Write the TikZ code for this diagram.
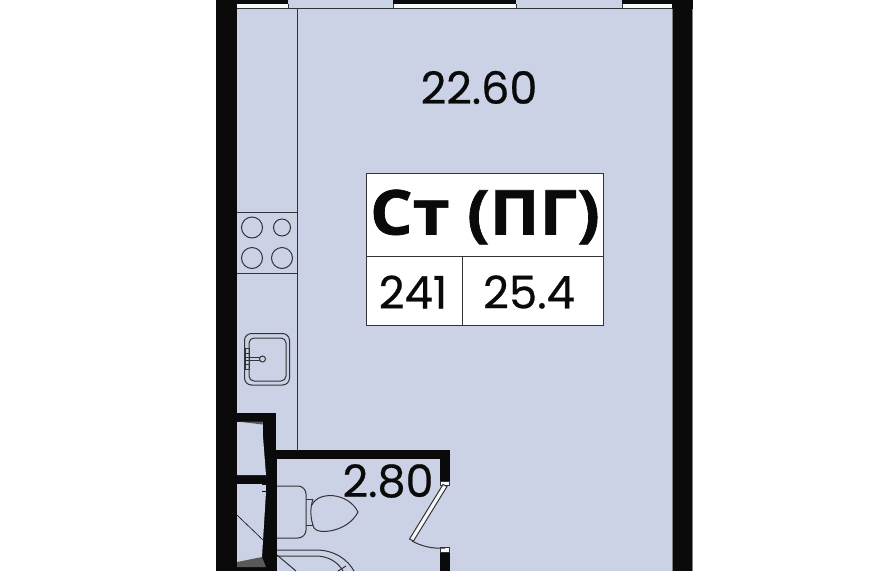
\documentclass[tikz,border=0pt]{standalone}
\usepackage{fontspec}
\setmainfont[FakeBold=0.5]{Poppins}
\newfontfamily\titlefont[BoldFeatures={FakeBold=1}]{Open Sans}
\definecolor{floorblue}{HTML}{CCD2E5}
\definecolor{wallblack}{HTML}{0A0A0A}
\definecolor{linegray}{HTML}{333333}
\tikzset{
 wall/.style={fill=wallblack,draw=none},
 thin line/.style={draw=linegray,line width=1pt},
 hair/.style={draw=wallblack,line width=0.6pt},
 numlabel/.style={text=wallblack,inner sep=0pt,font=\fontsize{44.5}{44.5}\selectfont},
 celllabel/.style={text=wallblack,inner sep=0pt,font=\fontsize{45}{45}\selectfont},
}
\begin{document}
\begin{tikzpicture}[x=1pt,y=-1pt]
\useasboundingbox (0,0) rectangle (883,571);
\fill[white] (0,0) rectangle (883,571);
% floor
\fill[floorblue] (237,0) rectangle (672,571);
% outer walls
\fill[wall] (216,0) rectangle (237,571);
\fill[wall] (672,0) rectangle (693,571);
\draw[draw=gray,line width=0.6pt] (672,9) -- (672,571) (692.7,9) -- (692.7,571);
% windows
\foreach \a/\b in {237/288,393/516,622/672}{
  \fill[wall] (\a,0) rectangle (\b,4);
  \fill[white!85!floorblue] (\a,4) rectangle (\b,8);
}
\draw[thin line] (237,8.6) -- (672,8.6);
\foreach \a in {288,393,516,622}{\draw[thin line] (\a,3.5) -- (\a,8.6);}
% kitchen
\draw[thin line] (297,8.6) -- (297,450);
\draw[thin line] (237,212.5) -- (297,212.5);
\draw[thin line] (237,273) -- (297,273);
\draw[thin line] (252,227.5) circle (10.5);
\draw[thin line] (282,227.5) circle (8.5);
\draw[thin line] (252,258) circle (10.5);
\draw[thin line] (282,258) circle (10.5);
% sink
\draw[thin line,rounded corners=7pt] (244.5,333.5) rectangle (289.5,385);
\draw[thin line,rounded corners=5pt] (249,338) rectangle (286,381);
\draw[thin line] (245,348) rectangle (249,369);
\draw[thin line] (245,353) -- (249,353) (245,364) -- (249,364);
\draw[thin line] (246,357.5) -- (260,357.5) (246,360.5) -- (260,360.5);
\draw[thin line] (262.5,359) circle (3);
% shaft and bathroom walls
\fill[wall] (237,413) rectangle (276,422);
\fill[wall] (263,413) rectangle (276,459);
\fill[wall] (267,450) rectangle (450,459);
\fill[wall] (440,450) rectangle (450,481);
\fill[wall] (237,475) rectangle (277,484);
\fill[wall] (262,459) rectangle (277,571);
\fill[wall] (237,567) rectangle (277,571);
\fill[wall] (440,552) rectangle (450,571);
% shaft details
\fill[floorblue] (237,422) -- (262,424) -- (266,475) -- (237,475) -- cycle;
\fill[gray!70!black] (237,421.5) -- (263,421.5) -- (262.5,424.5) -- cycle;
\fill[floorblue] (237,485) rectangle (266,491);
\fill[floorblue] (237,492) -- (266,492) -- (262,557) -- (237,562) -- cycle;
\fill[gray!70!black] (237,562) -- (262,557) -- (266,567) -- (237,567) -- cycle;
\draw[hair] (237,515) -- (263,540);
% door jamb caps
\draw[thin line,fill=white!85!floorblue] (440,481) rectangle (449,485);
\draw[thin line,fill=white!85!floorblue] (440,547) rectangle (449,552);
% door
\draw[thin line,fill=white!85!floorblue] (443,484.5) -- (447,486.5) -- (413.5,541) -- (409.5,539) -- cycle;
\draw[thin line] (412,541) .. controls (421,546) and (432,549) .. (445,548);
% toilet
\draw[thin line,rounded corners=8pt] (277,486) -- (306,486) -- (306,538) -- (277,538);
\draw[thin line] (306,499) -- (313,499) (306,525) -- (313,525);
\draw[thin line] (313,499) .. controls (310,508) and (310,518) .. (314,528);
\draw[thin line] (312,505) .. controls (318,491) and (348,492) .. (358,512) .. controls (348,532) and (318,535) .. (314,528);
% shower
\draw[thin line] (277,550) -- (316,550) .. controls (335,550) and (348,560) .. (354,571);
\draw[thin line] (277,555) -- (296,571);
\draw[thin line] (277,556) -- (316,556) .. controls (328,556) and (338,562) .. (343,571);
\draw[thin line] (338,571) -- (346,566);
% legend box
\draw[thin line,fill=white] (366,173) rectangle (603,325);
\draw[thin line] (366,256) -- (603,256);
\draw[thin line] (462.5,256) -- (462.5,325);
% labels
\node[numlabel] (areaMain) at (479,87.5) {22.60};
\node[numlabel] (areaBath) at (388,481) {2.80};
\node[text=wallblack,inner sep=0pt,font=\titlefont\bfseries\fontsize{62}{62}\selectfont] (typeLabel) at (485,217) {\scalebox{1.08}[1]{Ст (ПГ)}};
\node[celllabel] (aptNum) at (413,292) {241};
\node[celllabel] (aptArea) at (529,292) {25.4};
\end{tikzpicture}
\end{document}
